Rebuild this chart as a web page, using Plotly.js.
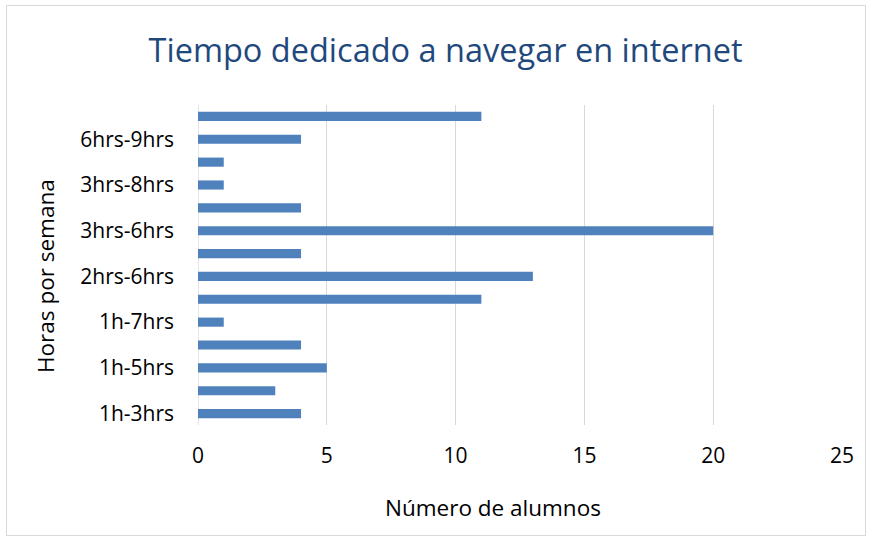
<!DOCTYPE html>
<html>
<head>
<meta charset="utf-8">
<script src="https://cdn.plot.ly/plotly-3.0.1.min.js"></script>
<style>
html,body{margin:0;padding:0;background:#fff;}
#frame{position:absolute;left:6px;top:5px;width:860px;height:531px;border:1px solid #d9d9d9;box-sizing:border-box;}
#chart{position:absolute;left:0;top:0;width:872px;height:540px;}
</style>
</head>
<body>
<div id="frame"></div>
<div id="chart"></div>
<script>
// Categories bottom to top (only every other label is shown in the original)
const categories = ["1h-3hrs","1h-4hrs","1h-5hrs","1h-6hrs","1h-7hrs","2hrs-4hrs","2hrs-6hrs","3hrs-5hrs","3hrs-6hrs","3hrs-7hrs","3hrs-8hrs","4hrs-8hrs","6hrs-9hrs","más de 9hrs"];
const alumnos = [4,3,5,4,1,11,13,4,20,4,1,1,4,11];
const shownLabels = ["1h-3hrs","1h-5hrs","1h-7hrs","2hrs-6hrs","3hrs-6hrs","3hrs-8hrs","6hrs-9hrs"];
const xTicks = [0,5,10,15,20,25];

const font = "'Open Sans', sans-serif";
const data = [{
  type: "bar",
  orientation: "h",
  y: categories,
  x: alumnos,
  marker: {color: "#4f81bd", line: {width: 0}},
  hoverinfo: "x+y"
}];
const layout = {
  width: 872, height: 540,
  margin: {l: 198, r: 30, t: 105, b: 115},
  paper_bgcolor: "rgba(0,0,0,0)",
  plot_bgcolor: "rgba(0,0,0,0)",
  bargap: 0.6,
  showlegend: false,
  title: {text: "Tiempo dedicado a navegar en internet", font: {family: font, size: 32.5, color: "#1f497d"}, x: 0.511, xanchor: "center", y: 0.907, yanchor: "middle"},
  xaxis: {
    range: [0, 25], tickvals: xTicks, ticktext: xTicks.map(String),
    showgrid: true, gridcolor: "#d9d9d9", gridwidth: 1.3,
    zeroline: false, showline: false, ticks: "",
    ticklabelstandoff: 16,
    tickfont: {family: font, size: 21, color: "#000"}
  },
  yaxis: {
    type: "category", categoryorder: "array", categoryarray: categories,
    range: [-0.5, categories.length - 0.5],
    tickvals: shownLabels, ticktext: shownLabels,
    showgrid: false, zeroline: false, showline: false, ticks: "",
    ticklabelstandoff: 23,
    tickfont: {family: font, size: 21, color: "#000"}
  },
  annotations: [
    {text: "Número de alumnos", xref: "paper", yref: "paper", x: (493 - 198) / 644, y: -(507 - 425) / 320, xanchor: "center", yanchor: "middle", showarrow: false, font: {family: font, size: 22.5, color: "#000"}},
    {text: "Horas por semana", xref: "paper", yref: "paper", x: -(198 - 45) / 644, y: (425 - 276) / 320, xanchor: "center", yanchor: "middle", textangle: -90, showarrow: false, font: {family: font, size: 22.5, color: "#000"}}
  ],
  shapes: [{type: "line", xref: "x", yref: "paper", x0: 0, x1: 0, y0: 0, y1: 1, line: {color: "#d9d9d9", width: 1.3}, layer: "below"}]
};
Plotly.newPlot("chart", data, layout, {displayModeBar: false, staticPlot: true});
</script>
</body>
</html>
